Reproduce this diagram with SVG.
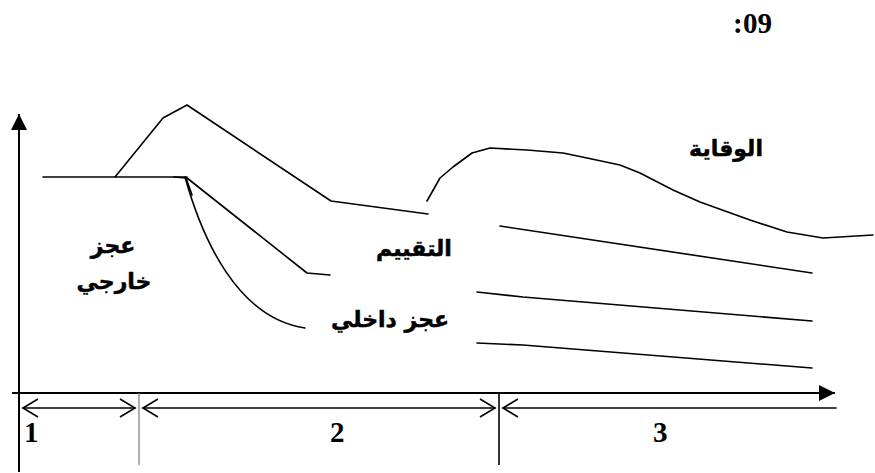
<svg xmlns="http://www.w3.org/2000/svg" width="875" height="473" viewBox="0 0 875 473">
<style>
.ln{fill:none;stroke:#000;stroke-width:1.6;stroke-linejoin:round;stroke-linecap:round}
.ax{fill:none;stroke:#000;stroke-width:2}
.ar{font-family:"DejaVu Sans","Liberation Sans",sans-serif;font-weight:bold;font-size:22px;fill:#000;stroke:#000;stroke-width:0.5;text-anchor:middle}
.num{font-family:"Liberation Serif","Times New Roman",serif;font-weight:bold;font-size:29px;fill:#000}
</style>
<defs>
<marker id="tri" markerUnits="userSpaceOnUse" markerWidth="18" markerHeight="18" viewBox="0 0 18 18" refX="16" refY="9" orient="auto">
<path d="M0,1 L16,9 L0,17 Z" fill="#000"/>
</marker>
<marker id="chev" markerUnits="userSpaceOnUse" markerWidth="20" markerHeight="22" viewBox="0 0 20 22" refX="17" refY="11" orient="auto-start-reverse">
<path d="M2,2 L17,11 L2,20" fill="none" stroke="#000" stroke-width="1.6"/>
</marker>
</defs>
<rect width="875" height="473" fill="#fff"/>

<g id="title">
<text class="num" x="733" y="33">:</text>
<text class="num" x="743" y="33">09</text>
</g>

<g id="axes">
<path class="ax" d="M19,472 L19,114" marker-end="url(#tri)"/>
<path class="ax" d="M12,393 L835,393" marker-end="url(#tri)"/>
</g>

<g id="profile">
<path class="ln" d="M43,177 L187,177"/>
<path class="ln" d="M115,177 L163,118 L187,105 L331,201 L428,214"/>
<path class="ln" d="M187,178 L307,273 L330,275"/>
<path class="ln" d="M185,177 C202,238 237,318 305,328"/>
<path class="ln" d="M174,177 L186,178 L192,195" stroke-width="2.2"/>
<path class="ln" d="M427,201 L440,178 L453,167 L472,153 L490,148 L527,150 L563,153 L587,158 L620,165 L640,173 L673,190 L700,202 L750,220 L787,232 L823,238 L873,235"/>
<path class="ln" d="M500,226 L812,273"/>
<path class="ln" d="M477,292 L523,297 L812,321"/>
<path class="ln" d="M477,343 L523,345 L812,368"/>
</g>

<g id="dimensions">
<path d="M139,393 L139,465" stroke="#777" stroke-width="1.2" fill="none"/>
<path d="M499,393 L499,465" stroke="#000" stroke-width="1.6" fill="none"/>
<path class="ln" d="M23,408 L135,408" marker-start="url(#chev)" marker-end="url(#chev)"/>
<path class="ln" d="M143,408 L495,408" marker-start="url(#chev)" marker-end="url(#chev)"/>
<path class="ln" d="M503,408 L836,408" marker-start="url(#chev)"/>
</g>

<g id="labels">
<text class="ar" x="113" y="253">عجز</text>
<text class="ar" x="114" y="289">خارجي</text>
<text class="ar" x="414" y="256">التقييم</text>
<text class="ar" x="390" y="327">عجز داخلي</text>
<text class="ar" x="726" y="156">الوقاية</text>
<text class="num" x="24" y="442">1</text>
<text class="num" x="330" y="442">2</text>
<text class="num" x="653" y="442">3</text>
</g>
</svg>
